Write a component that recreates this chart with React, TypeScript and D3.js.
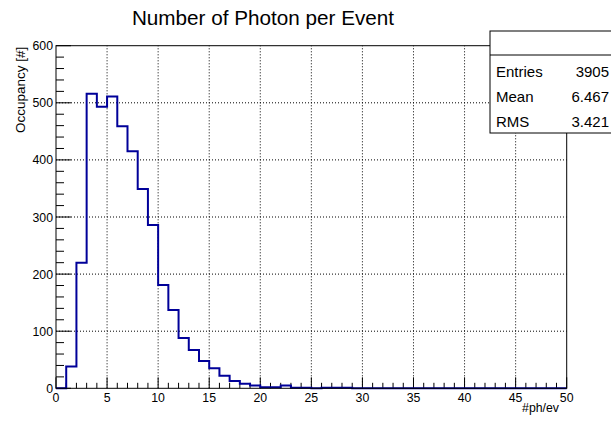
import React from 'react';
import { scaleLinear, range } from 'd3';

// bin contents, one per unit bin from 0 to 50
const counts = [
  0, 38, 220, 516, 493, 511, 459, 415, 349, 286,
  181, 137, 88, 67, 48, 35, 22, 13, 8, 5,
  2, 2, 5, 1, 1, 0, 1, 1, 1, 0,
  0, 0, 0, 0, 0, 0, 0, 0, 0, 0,
  0, 0, 0, 0, 0, 0, 0, 0, 0, 0,
];
const xTicks = [0, 5, 10, 15, 20, 25, 30, 35, 40, 45, 50];
const yTicks = [0, 100, 200, 300, 400, 500, 600];
const statNames = ['Entries', 'Mean', 'RMS'];
const statValues = ['3905', '6.467', '3.421'];

const W = 611, H = 423;
const margin = { top: 45.7, right: 44.3, bottom: 34.7, left: 56 };
const font = 'Liberation Sans, Arial, Helvetica, sans-serif';

export default function App() {
  const x = scaleLinear().domain([0, 50]).range([margin.left, W - margin.right]);
  const y = scaleLinear().domain([0, 600]).range([H - margin.bottom, margin.top]);
  const x0 = x(0), x1 = x(50), y0 = y(0), y1 = y(600);

  // step outline of the histogram
  let d = `M${x(0)},${y(0)}`;
  counts.forEach((c, i) => {
    d += `L${x(i)},${y(c)}L${x(i + 1)},${y(c)}`;
  });
  d += `L${x(50)},${y(0)}`;

  const xMinor = range(0, 51, 1);
  const yMinor = range(0, 601, 20);

  return (
    <svg width={W} height={H} style={{ position: 'absolute', left: 0, top: 0, background: '#fff' }}>
      <text x={263} y={25} fontFamily={font} fontSize={20.7} textAnchor="middle">Number of Photon per Event</text>

      {/* grid */}
      {xTicks.slice(1, -1).map(t => (
        <line key={'gx' + t} x1={x(t)} x2={x(t)} y1={y0} y2={y1} stroke="#000" strokeWidth={1} strokeDasharray="1,2" />
      ))}
      {yTicks.slice(1, -1).map(t => (
        <line key={'gy' + t} x1={x0} x2={x1} y1={y(t)} y2={y(t)} stroke="#000" strokeWidth={1} strokeDasharray="1,2" />
      ))}

      {/* ticks */}
      {xMinor.map(t => (
        <line key={'tx' + t} x1={x(t)} x2={x(t)} y1={y0} y2={y0 - (t % 5 === 0 ? 11 : 5.5)} stroke="#000" />
      ))}
      {yMinor.map(t => (
        <line key={'ty' + t} x1={x0} x2={x0 + (t % 100 === 0 ? 15 : 8)} y1={y(t)} y2={y(t)} stroke="#000" />
      ))}

      <path d={d} fill="none" stroke="#000099" strokeWidth={2} />

      <rect x={x0} y={y1} width={x1 - x0} height={y0 - y1} fill="none" stroke="#000" strokeWidth={1} />

      {xTicks.map(t => (
        <text key={'lx' + t} x={x(t)} y={y0 + 14} fontFamily={font} fontSize={12.3} textAnchor="middle">{t}</text>
      ))}
      {yTicks.map(t => (
        <text key={'ly' + t} x={x0 - 3} y={y(t) + 4.5} fontFamily={font} fontSize={12.3} textAnchor="end">{t}</text>
      ))}

      <text x={559} y={412} fontFamily={font} fontSize={12.3} textAnchor="end">#ph/ev</text>
      <text transform={`translate(25,${y1 + 1}) rotate(-90)`} fontFamily={font} fontSize={13.5} textAnchor="end">Occupancy [#]</text>

      {/* stats box */}
      <rect x={490} y={31} width={130} height={102} fill="#fff" stroke="#000" strokeWidth={1} />
      <line x1={490} x2={611} y1={55} y2={55} stroke="#000" />
      {statNames.map((n, i) => (
        <g key={n}>
          <text x={496} y={76.7 + i * 25} fontFamily={font} fontSize={15} >{n}</text>
          <text x={609} y={76.7 + i * 25} fontFamily={font} fontSize={15} textAnchor="end">{statValues[i]}</text>
        </g>
      ))}
    </svg>
  );
}
